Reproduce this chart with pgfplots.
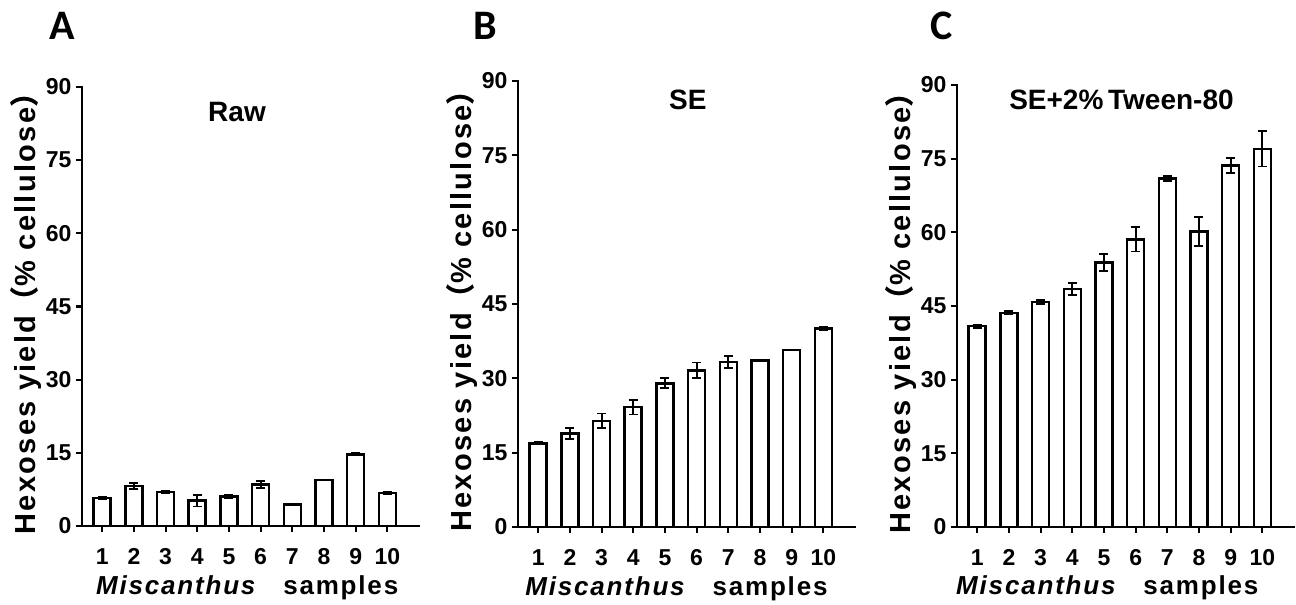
\documentclass[border=0pt]{standalone}
\usepackage{fontspec}
\setmainfont{Liberation Sans}
\newfontfamily\cjk{Noto Sans CJK SC}
\newfontfamily\carlito{Carlito}
\usepackage{pgfplots}
\pgfplotsset{compat=1.18}

\pgfplotsset{
  panel/.style={
    scale only axis, width=337bp, clip=false,
    xmin=0.36, xmax=11.0, ymin=0, ymax=90,
    axis x line*=bottom, axis y line*=left,
    axis line style={line width=2.8bp, line cap=rect},
    xtick={1,...,10}, ytick={0,15,...,90},
    tick align=outside, major tick length=6bp,
    tick style={line width=2.2bp, black},
    /pgf/number format/assume math mode=true,
    ticklabel style={font=\fontsize{23bp}{23bp}\selectfont\bfseries},
    yticklabel style={xshift=-1bp},
    xticklabel style={yshift=-13bp},
    title style={font=\fontsize{28bp}{28bp}\selectfont\bfseries, anchor=center},
    every axis y label/.style={at={(axis description cs:-0.166,0.5)}, rotate=90, anchor=center,
      font=\fontsize{29bp}{29bp}\selectfont\bfseries\addfontfeatures{LetterSpace=8}},
    ylabel={Hexoses yield{\cjk （}\% cellulose{\cjk ）}},
    xlabel={\textit{Miscanthus}\quad samples},
  },
  bars/.style={ybar, bar width=17bp, fill=white, draw=black, line width=2.6bp,
    error bars/.cd, y dir=both, y explicit,
    error bar style={line width=1.8bp, black},
    error mark options={rotate=90, mark size=4.5bp, line width=1.8bp, black}},
}

\begin{document}
\begin{tikzpicture}
\useasboundingbox (0,0) rectangle (1296bp,605bp);

% panel letters
\node[font=\fontsize{42bp}{42bp}\selectfont\carlito\bfseries] at (62bp,579bp) {A};
\node[font=\fontsize{42bp}{42bp}\selectfont\carlito\bfseries] at (485bp,579bp) {B};
\node[font=\fontsize{42bp}{42bp}\selectfont\carlito\bfseries] at (942bp,579bp) {C};

% A: raw
\begin{axis}[panel, at={(82bp,79bp)}, anchor=south west, height=439bp,
  title={Raw}, title style={at={(axis description cs:0.46,0.93)}},
  every axis x label/.style={at={(axis description cs:0.49,-0.14)}, anchor=center,
    font=\fontsize{26bp}{26bp}\selectfont\bfseries\addfontfeatures{LetterSpace=7}}]
\addplot[bars] coordinates {
  (1,5.7) +- (0,0.2)
  (2,8.2) +- (0,0.6)
  (3,7.0) +- (0,0.2)
  (4,5.2) +- (0,1.2)
  (5,6.0) +- (0,0.3)
  (6,8.5) +- (0,0.65)
  (7,4.4) +- (0,0)
  (8,9.4) +- (0,0)
  (9,14.7) +- (0,0.2)
  (10,6.8) +- (0,0.2)
};
\end{axis}

% B: SE
\begin{axis}[panel, at={(518bp,78bp)}, anchor=south west, height=446bp,
  title={SE}, title style={at={(axis description cs:0.504,0.945)}},
  every axis x label/.style={at={(axis description cs:0.47,-0.138)}, anchor=center,
    font=\fontsize{26bp}{26bp}\selectfont\bfseries\addfontfeatures{LetterSpace=7}}]
\addplot[bars] coordinates {
  (1,16.9) +- (0,0.2)
  (2,18.9) +- (0,1.1)
  (3,21.4) +- (0,1.5)
  (4,24.2) +- (0,1.5)
  (5,29.0) +- (0,1.0)
  (6,31.6) +- (0,1.6)
  (7,33.3) +- (0,1.2)
  (8,33.6) +- (0,0)
  (9,35.7) +- (0,0)
  (10,40.1) +- (0,0.3)
};
\end{axis}

% C: SE + 2% Tween-80
\begin{axis}[panel, at={(957bp,78bp)}, anchor=south west, height=442bp,
  title={SE+2\%\,Tween-80}, title style={at={(axis description cs:0.488,0.952)}},
  every axis x label/.style={at={(axis description cs:0.446,-0.138)}, anchor=center,
    font=\fontsize{26bp}{26bp}\selectfont\bfseries\addfontfeatures{LetterSpace=7}}]
\addplot[bars] coordinates {
  (1,40.9) +- (0,0.3)
  (2,43.6) +- (0,0.3)
  (3,45.8) +- (0,0.4)
  (4,48.5) +- (0,1.2)
  (5,53.9) +- (0,1.7)
  (6,58.6) +- (0,2.5)
  (7,70.9) +- (0,0.5)
  (8,60.2) +- (0,3.0)
  (9,73.6) +- (0,1.6)
  (10,77.0) +- (0,3.6)
};
\end{axis}
\end{tikzpicture}
\end{document}
